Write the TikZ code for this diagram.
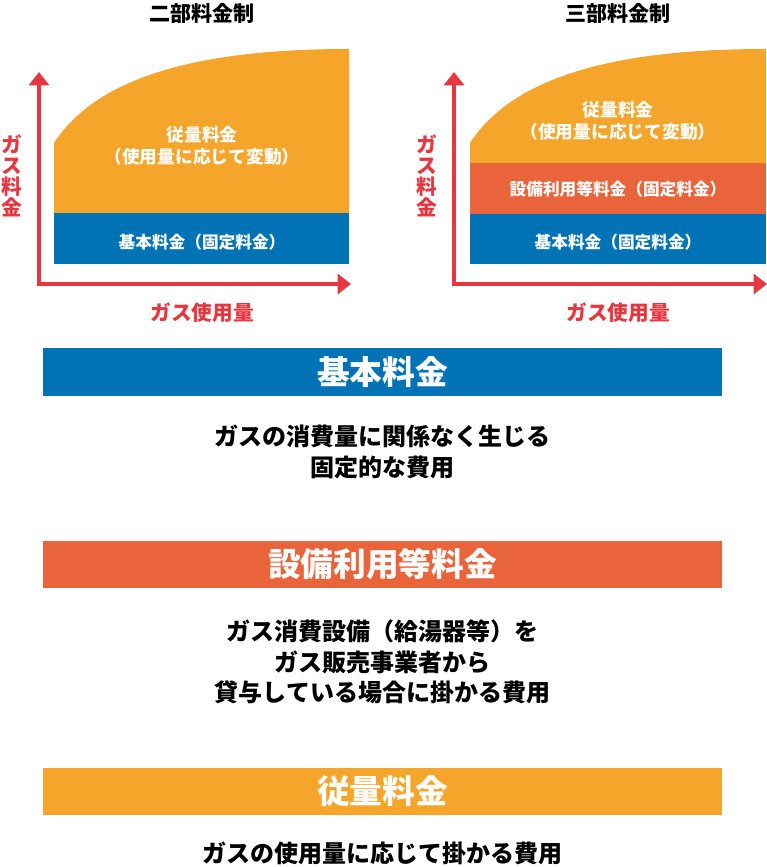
\documentclass[tikz,border=0pt]{standalone}
\usepackage{fontspec}
\setmainfont{Noto Sans CJK JP}
\usepackage{tikz}
\usetikzlibrary{arrows.meta,positioning}
\definecolor{gasblue}{RGB}{0, 115, 183}
\definecolor{gasorange}{RGB}{244, 165, 42}
\definecolor{gasvermilion}{RGB}{233, 100, 58}
\definecolor{gasred}{RGB}{230, 55, 65}

\begin{document}
\begin{tikzpicture}[
    x=0.75pt, y=-0.75pt,
    axis/.style={{Triangle[length=10pt,width=15pt]}-{Triangle[length=10pt,width=15pt]}, line width=2.3pt, gasred, miter limit=10},
    axlabel/.style={font=\fontsize{15.5}{15.8}\selectfont\bfseries, text=gasred, align=center, inner sep=0pt},
    charttitle/.style={font=\fontsize{15.8}{17}\selectfont\bfseries},
    band/.style={font=\fontsize{12.5}{16.5}\selectfont\bfseries, text=white, align=center, inner sep=0pt},
    volband/.style={band, font=\fontsize{13.3}{16.5}\selectfont\bfseries},
    bar/.style={rectangle, minimum width=509.25pt, minimum height=35.5pt, inner sep=0pt, text=white, font=\fontsize{24.5}{26}\selectfont\bfseries},
    desc/.style={font=\fontsize{18}{22.7}\selectfont\bfseries, align=center, inner sep=0pt},
]
\useasboundingbox (0,0) rectangle (767,867);

% two-part tariff
\fill[gasorange] (54,213) -- (54,143) .. controls (95,80) and (190,49) .. (349,49) -- (349,213) -- cycle;
\fill[gasblue] (54,213) rectangle (349,264);
\coordinate (o1) at (39,284);
\coordinate (y1) at (39,72);
\coordinate (x1) at (351,284);
\draw[axis] (y1) -- (o1) -- (x1);
\node[charttitle] (t1) at (202,13) {二部料金制};
\node[volband] (vol1) at (202,146) {従量料金\\（使用量に応じて変動）};
\node[band] (base1) at (202,242) {基本料金（固定料金）};
\node[axlabel] (yl1) at (12,176) {ガ\\ス\\料\\金};
\node[axlabel] (xl1) at (202,313) {ガス使用量};

% three-part tariff
\begin{scope}[shift={(416,0)}]
\fill[gasorange] (54,163) -- (54,143) .. controls (95,80) and (190,49) .. (350,49) -- (350,163) -- cycle;
\fill[gasvermilion] (54,163) rectangle (350,214);
\fill[gasblue] (54,214) rectangle (350,264);
\coordinate (o2) at (38,284);
\coordinate (y2) at (38,72);
\coordinate (x2) at (351,284);
\draw[axis] (y2) -- (o2) -- (x2);
\node[charttitle] (t2) at (202,13) {三部料金制};
\node[volband] (vol2) at (202,121) {従量料金\\（使用量に応じて変動）};
\node[band] (equip2) at (202,189) {設備利用等料金（固定料金）};
\node[band] (base2) at (202,242) {基本料金（固定料金）};
\node[axlabel] (yl2) at (11,176) {ガ\\ス\\料\\金};
\node[axlabel] (xl2) at (202,313) {ガス使用量};
\end{scope}

% explanations
\node[bar, fill=gasblue] (basebar) at (382.5,372) {基本料金};
\node[desc] (basedesc) at (382.5,452) {ガスの消費量に関係なく生じる\\固定的な費用};
\node[bar, fill=gasvermilion] (equipbar) at (382.5,564.5) {設備利用等料金};
\node[desc] (equipdesc) at (382.5,662) {ガス消費設備（給湯器等）を\\ガス販売事業者から\\貸与している場合に掛かる費用};
\node[bar, fill=gasorange] (volbar) at (382.5,791.5) {従量料金};
\node[desc] (voldesc) at (382.5,853) {ガスの使用量に応じて掛かる費用};
\end{tikzpicture}
\end{document}
